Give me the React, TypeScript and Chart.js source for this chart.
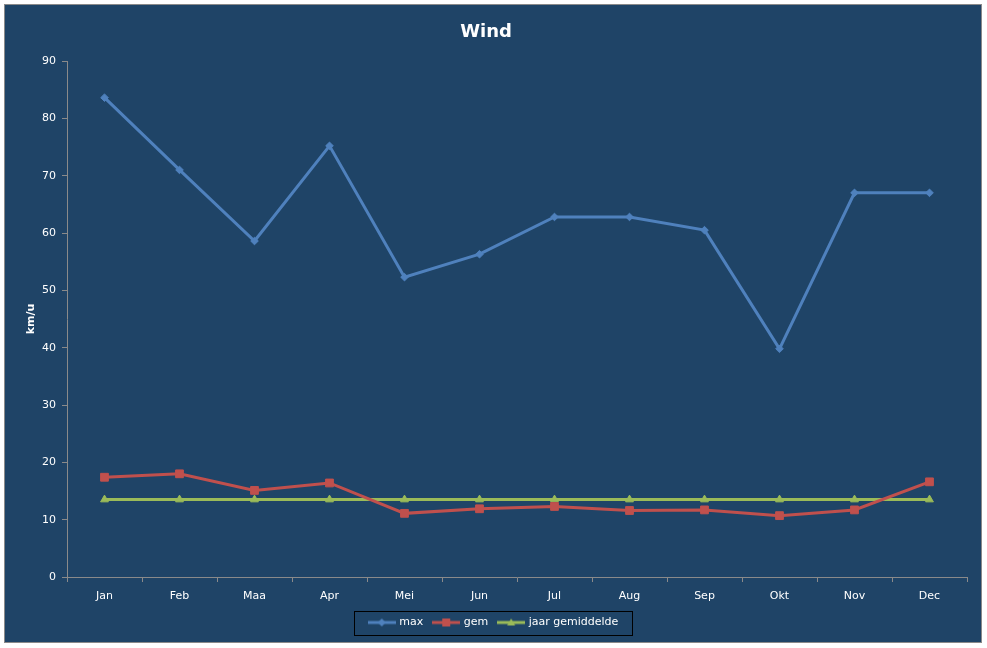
import React, { useEffect, useRef } from "react";
import { Chart, registerables } from "chart.js";

Chart.register(...registerables);

// data
const months = ["Jan", "Feb", "Maa", "Apr", "Mei", "Jun", "Jul", "Aug", "Sep", "Okt", "Nov", "Dec"];
const maxWind = [83.6, 71.0, 58.6, 75.2, 52.3, 56.3, 62.8, 62.8, 60.5, 39.8, 67.0, 67.0];
const avgWind = [17.4, 18.0, 15.1, 16.4, 11.1, 11.9, 12.3, 11.6, 11.7, 10.7, 11.7, 16.6];
const yearAvg = [13.5, 13.5, 13.5, 13.5, 13.5, 13.5, 13.5, 13.5, 13.5, 13.5, 13.5, 13.5];

const BG = "#1F4467";
const AXIS = "#8A8A8A";
const BLUE = "#4F81BD";
const RED = "#C0504D";
const GREEN = "#9BBB59";
const FONT = "'DejaVu Sans', sans-serif";
const LEGEND_SHIFT = 8;

// small canvas used as legend symbol: line with marker in the middle
function legendSymbol(color: string, marker: string) {
  const c = document.createElement("canvas");
  c.width = 28;
  c.height = 12;
  const ctx = c.getContext("2d");
  if (!ctx) return c;
  ctx.strokeStyle = color;
  ctx.fillStyle = color;
  ctx.lineWidth = 3;
  ctx.beginPath();
  ctx.moveTo(0, 6);
  ctx.lineTo(28, 6);
  ctx.stroke();
  ctx.beginPath();
  if (marker === "diamond") {
    ctx.moveTo(14, 2);
    ctx.lineTo(18, 6);
    ctx.lineTo(14, 10);
    ctx.lineTo(10, 6);
  } else if (marker === "square") {
    ctx.rect(10, 2, 8, 8);
  } else {
    ctx.moveTo(14, 2);
    ctx.lineTo(18, 9);
    ctx.lineTo(10, 9);
  }
  ctx.closePath();
  ctx.fill();
  return c;
}

// nudges the legend to the right and draws the black frame round it
const legendBox = {
  id: "legendBox",
  afterLayout(chart: any) {
    const lg = chart.legend;
    if (!lg) return;
    lg.left += LEGEND_SHIFT;
    lg.right += LEGEND_SHIFT;
    (lg.legendHitBoxes || []).forEach((b: any) => {
      b.left += LEGEND_SHIFT;
    });
  },
  afterDraw(chart: any) {
    const boxes = chart.legend?.legendHitBoxes;
    if (!boxes || !boxes.length) return;
    const left = Math.min(...boxes.map((b: any) => b.left));
    const right = Math.max(...boxes.map((b: any) => b.left + b.width));
    const mid = boxes[0].top + boxes[0].height / 2;
    const ctx = chart.ctx;
    ctx.save();
    ctx.strokeStyle = "#000";
    ctx.lineWidth = 1;
    ctx.strokeRect(Math.round(left - 16) + 0.5, Math.round(mid - 12) + 0.5, Math.round(right - left + 29), 24);
    ctx.restore();
  },
};

export default function App() {
  const chartRef = useRef<HTMLCanvasElement | null>(null);
  const chartInstanceRef = useRef<Chart | null>(null);

  useEffect(() => {
    if (!chartRef.current) return;
    const ctx = chartRef.current.getContext("2d");
    if (!ctx) return;

    if (chartInstanceRef.current) {
      chartInstanceRef.current.destroy();
    }

    const symbols = [legendSymbol(BLUE, "diamond"), legendSymbol(RED, "square"), legendSymbol(GREEN, "triangle")];

    chartInstanceRef.current = new Chart(ctx, {
      type: "line",
      data: {
        labels: months,
        datasets: [
          {
            label: "max",
            data: maxWind,
            borderColor: BLUE,
            backgroundColor: BLUE,
            borderWidth: 3,
            pointStyle: "rectRot",
            pointRadius: 3.8,
            pointBorderWidth: 1,
            tension: 0,
          },
          {
            label: "gem",
            data: avgWind,
            borderColor: RED,
            backgroundColor: RED,
            borderWidth: 3,
            pointStyle: "rect",
            pointRadius: 5.5,
            pointBorderWidth: 1,
            tension: 0,
          },
          {
            label: "jaar gemiddelde",
            data: yearAvg,
            borderColor: GREEN,
            backgroundColor: GREEN,
            borderWidth: 3,
            pointStyle: "triangle",
            pointRadius: 4.5,
            pointBorderWidth: 1,
            tension: 0,
          },
        ],
      },
      options: {
        responsive: false,
        animation: false,
        layout: { padding: { left: 0, right: 14, top: 0, bottom: 4 } },
        plugins: {
          title: {
            display: true,
            text: "Wind",
            color: "#FFFFFF",
            font: { family: FONT, size: 18, weight: "bold" },
            padding: { top: 17, bottom: 17.4 },
          },
          legend: {
            position: "bottom",
            labels: {
              color: "#FFFFFF",
              font: { family: FONT, size: 11 },
              usePointStyle: true,
              pointStyleWidth: 24,
              padding: 11,
              generateLabels(chart: any) {
                const items = Chart.defaults.plugins.legend.labels.generateLabels(chart);
                items.forEach((it: any, i: number) => {
                  it.pointStyle = symbols[i];
                });
                return items;
              },
            },
          },
          tooltip: { enabled: false },
        },
        scales: {
          x: {
            offset: true,
            afterFit(scale: any) {
              scale.height = 29;
            },
            grid: {
              drawOnChartArea: false,
              drawTicks: true,
              tickLength: 5,
              color: AXIS,
              offset: true,
            },
            border: { color: AXIS, width: 1 },
            ticks: {
              color: "#FFFFFF",
              font: { family: FONT, size: 11 },
              padding: 8,
              maxRotation: 0,
            },
          },
          y: {
            min: 0,
            max: 90,
            afterFit(scale: any) {
              scale.width = 62;
            },
            grid: {
              drawOnChartArea: false,
              drawTicks: true,
              tickLength: 5,
              color: AXIS,
            },
            border: { color: AXIS, width: 1 },
            ticks: {
              stepSize: 10,
              color: "#FFFFFF",
              font: { family: FONT, size: 11 },
              padding: 6,
            },
            title: {
              display: true,
              text: "km/u",
              color: "#FFFFFF",
              font: { family: FONT, size: 11, weight: "bold" },
              padding: { top: 20, bottom: 0 },
            },
          },
        },
      },
      plugins: [legendBox],
    });

    return () => {
      if (chartInstanceRef.current) {
        chartInstanceRef.current.destroy();
        chartInstanceRef.current = null;
      }
    };
  }, []);

  return (
    <div style={{ position: "fixed", left: 0, top: 0, width: 987, height: 648, background: "#FFFFFF" }}>
      <div
        style={{
          position: "absolute",
          left: 4,
          top: 4,
          width: 976,
          height: 637,
          background: BG,
          border: `1px solid ${AXIS}`,
        }}
      >
        <canvas ref={chartRef} width={976} height={637} style={{ display: "block", width: 976, height: 637 }} />
      </div>
    </div>
  );
}
